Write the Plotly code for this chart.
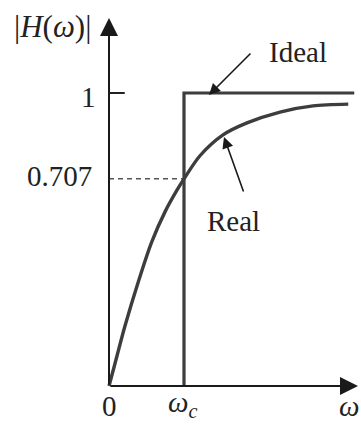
import plotly.graph_objects as go

# ---- data (omega in units of omega_c) ----
omega_real = [0, 0.08, 0.21, 0.39, 0.57, 0.75, 0.91, 1.0, 1.21, 1.52, 1.84, 2.28, 2.72, 3.19]
H_real = [0, 0.077, 0.202, 0.355, 0.492, 0.596, 0.670, 0.707, 0.785, 0.857, 0.898, 0.935, 0.956, 0.962]

omega_ideal = [1.0, 1.0, 3.27]
H_ideal = [0.0, 1.0, 1.0]

omega_c = 1.0
H_c = 0.707
tick_vals = [0.707, 1]
tick_text = ["0.707", "1"]

W, H = 361, 424
X0, Y0 = 109, 386          # pixel of origin
SX, SY = 75.0, 293.0       # pixels per unit

DARK = "#3d3d3d"
FONT = "Liberation Serif"

def pxp(x, y):
    return x / W, 1 - y / H

fig = go.Figure()

# dashed guide at 0.707
fig.add_trace(go.Scatter(x=[0, omega_c], y=[H_c, H_c], mode="lines",
                         line=dict(color="#555555", width=1.5, dash="5px,4px"),
                         hoverinfo="skip"))
# ideal response
fig.add_trace(go.Scatter(x=omega_ideal, y=H_ideal, mode="lines",
                         line=dict(color=DARK, width=3.2), hoverinfo="skip"))
# real response
fig.add_trace(go.Scatter(x=omega_real, y=H_real, mode="lines",
                         line=dict(color=DARK, width=3.4, shape="spline", smoothing=0.8),
                         hoverinfo="skip"))
# tick mark at 1
fig.add_trace(go.Scatter(x=[0, 0.21], y=[tick_vals[1], tick_vals[1]], mode="lines",
                         line=dict(color="#222222", width=2), hoverinfo="skip"))

ann = []
# axes with arrowheads
ann.append(dict(x=0, y=(Y0 - 18) / SY, xref="x", yref="y", ax=0, ay=Y0 - 18, axref="pixel",
                text="", showarrow=True, arrowhead=2, arrowsize=1.8, arrowwidth=2,
                arrowcolor="#1a1a1a", standoff=0))
ann.append(dict(x=(358 - X0) / SX, y=0, xref="x", yref="y", ax=-(358 - X0), ay=0,
                text="", showarrow=True, arrowhead=2, arrowsize=1.8, arrowwidth=2,
                arrowcolor="#1a1a1a", standoff=0))
# pointer arrows
ann.append(dict(x=(209 - X0) / SX, y=(Y0 - 95) / SY, xref="x", yref="y", ax=43, ay=-43,
                text="", showarrow=True, arrowhead=2, arrowsize=1.4, arrowwidth=1.6,
                arrowcolor="#1a1a1a", standoff=0))
ann.append(dict(x=(224 - X0) / SX, y=(Y0 - 137) / SY, xref="x", yref="y", ax=20, ay=56,
                text="", showarrow=True, arrowhead=2, arrowsize=1.4, arrowwidth=1.6,
                arrowcolor="#1a1a1a", standoff=0))

def label(text, x, y, size=29, yanchor="middle"):
    px, py = pxp(x, y)
    ann.append(dict(x=px, y=py, xref="paper", yref="paper", text=text, showarrow=False,
                    xanchor="center", yanchor=yanchor,
                    font=dict(family=FONT, size=size, color="#222222")))

label("|<i>H</i>(<i>ω</i>)|", 52, 26, size=31)
label(tick_text[1], 88, 97)
label(tick_text[0], 59, 176)
label("Ideal", 298, 52)
label("Real", 233, 221)
label("0", 110, 424, yanchor="bottom")
label("<i>ω</i><sub><i>c</i></sub>", 183, 424, yanchor="bottom")
label("<i>ω</i>", 349, 424, yanchor="bottom")

fig.update_layout(
    width=W, height=H, autosize=False,
    margin=dict(l=0, r=0, t=0, b=0),
    paper_bgcolor="white", plot_bgcolor="white",
    showlegend=False,
    xaxis=dict(range=[-X0 / SX, (W - X0) / SX], visible=False, fixedrange=True),
    yaxis=dict(range=[-(H - Y0) / SY, Y0 / SY], visible=False, fixedrange=True),
    annotations=ann,
)

fig.write_html("out.html", config={"displayModeBar": False},
               post_script="document.body.style.margin='0';document.body.style.overflow='hidden';")
